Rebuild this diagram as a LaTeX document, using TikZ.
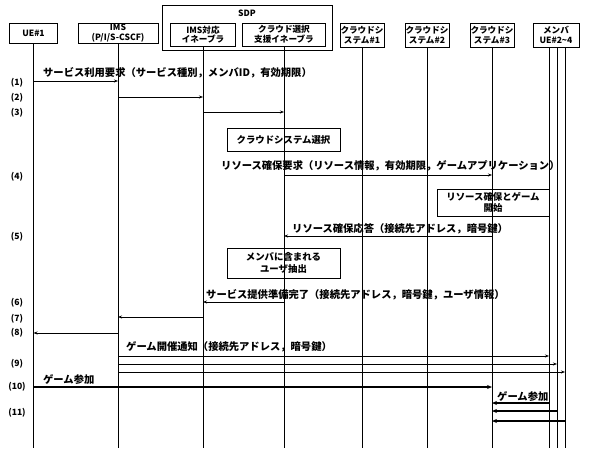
\documentclass[tikz,border=0pt]{standalone}
\usepackage{fontspec}
\setmainfont{Noto Sans CJK JP}
\usetikzlibrary{arrows.meta}
\begin{document}
\begin{tikzpicture}[x=1pt,y=-1pt,
  hdr/.style={draw,line width=0.8pt,align=center,inner sep=0pt,font=\fontsize{8.6}{9.6}\selectfont\bfseries},
  procbox/.style={draw,line width=0.8pt,align=center,inner sep=0pt,font=\fontsize{9.4}{11.5}\selectfont\bfseries},
  life/.style={line width=0.6pt},
  msg/.style={line width=0.8pt,-{Stealth[length=4pt,width=3pt]}},
  thickmsg/.style={line width=1.4pt,-{Stealth[length=5pt,width=4pt]}},
  lbl/.style={anchor=west,inner sep=0pt,font=\fontsize{10.3}{12}\selectfont\bfseries},
  rowlbl/.style={inner sep=0pt,font=\fontsize{8.6}{10}\selectfont\bfseries}]
\useasboundingbox[fill=white] (0,0) rectangle (590,448);

% header boxes
\node[hdr,minimum width=48pt,minimum height=20pt] (ue) at (33.5,33) {UE\#1};
\node[hdr,minimum width=80pt,minimum height=20pt] (ims) at (118,33) {IMS\\(P/I/S-CSCF)};
\draw[line width=0.8pt] (162,5) rectangle (332,50);
\node[rowlbl] (sdp) at (247,13) {SDP};
\node[hdr,minimum width=65pt,minimum height=23pt] (imsen) at (203,34.5) {IMS対応\\イネーブラ};
\node[hdr,minimum width=83pt,minimum height=23pt] (cse) at (284,34.5) {クラウド選択\\支援イネーブラ};
\node[hdr,minimum width=44pt,minimum height=24pt] (cs1) at (362,35) {クラウドシ\\ステム\#1};
\node[hdr,minimum width=44pt,minimum height=24pt] (cs2) at (427,35) {クラウドシ\\ステム\#2};
\node[hdr,minimum width=44pt,minimum height=24pt] (cs3) at (492,35) {クラウドシ\\ステム\#3};
\node[hdr,minimum width=46pt,minimum height=24pt] (mem) at (556,35) {メンバ\\UE\#2\textasciitilde 4};

\coordinate (m1) at (549,47);
\coordinate (m2) at (557,47);
\coordinate (m3) at (565,47);

% lifelines
\foreach \n in {ue,ims,imsen,cse,cs1,cs2,cs3}{
  \draw[life] (\n.south) -- (\n.south |- 0,448);
}
\foreach \n in {m1,m2,m3}{
  \draw[life] (\n) -- (\n |- 0,448);
}

% row labels
\node[rowlbl] (r1) at (17,83) {(1)};
\node[rowlbl] (r2) at (17,98) {(2)};
\node[rowlbl] (r3) at (17,113) {(3)};
\node[rowlbl] (r4) at (17,177) {(4)};
\node[rowlbl] (r5) at (17,237) {(5)};
\node[rowlbl] (r6) at (17,303) {(6)};
\node[rowlbl] (r7) at (17,319) {(7)};
\node[rowlbl] (r8) at (17,333) {(8)};
\node[rowlbl] (r9) at (17,364) {(9)};
\node[rowlbl] (r10) at (17,387) {(10)};
\node[rowlbl] (r11) at (17,413) {(11)};

% (1)-(3)
\node[lbl] (l1) at (43,73) {サービス利用要求（サービス種別，メンバID，有効期限）};
\draw[msg] (ue |- 0,81) -- (ims |- 0,81);
\draw[msg] (ims |- 0,97) -- (imsen |- 0,97);
\draw[msg] (imsen |- 0,112) -- (cse |- 0,112);

\node[procbox,minimum width=113pt,minimum height=23pt] (sel) at (283.5,139.5) {クラウドシステム選択};

% (4)
\node[lbl] (l4) at (221,166) {リソース確保要求（リソース情報，有効期限，ゲームアプリケーション）};
\draw[msg] (cse |- 0,175) -- (cs3 |- 0,175);

\node[procbox,minimum width=112pt,minimum height=27pt] (start) at (493,202.5) {リソース確保とゲーム\\開始};

% (5)
\node[lbl] (l5) at (292,229) {リソース確保応答（接続先アドレス，暗号鍵）};
\draw[msg] (cs3 |- 0,236) -- (cse |- 0,236);

\node[procbox,minimum width=113pt,minimum height=30pt] (ext) at (283.5,263) {メンバに含まれる\\ユーザ抽出};

% (6)-(8)
\node[lbl] (l6) at (206,295) {サービス提供準備完了（接続先アドレス，暗号鍵，ユーザ情報）};
\draw[msg] (cse |- 0,302) -- (imsen |- 0,302);
\draw[msg] (imsen |- 0,317) -- (ims |- 0,317);
\draw[msg] (ims |- 0,333) -- (ue |- 0,333);

% (9)
\node[lbl] (l9) at (126,347) {ゲーム開催通知（接続先アドレス，暗号鍵）};
\draw[msg] (ims |- 0,356) -- (m1 |- 0,356);
\draw[msg] (ims |- 0,364) -- (m2 |- 0,364);
\draw[msg] (ims |- 0,372) -- (m3 |- 0,372);

% (10)
\node[lbl] (l10) at (43,380) {ゲーム参加};
\draw[thickmsg] (ue |- 0,387) -- (cs3 |- 0,387);

% (11)
\node[lbl] (l11) at (497,397) {ゲーム参加};
\draw[line width=1.1pt,-{Stealth[length=5pt,width=4pt]}] (m1 |- 0,403) -- (cs3 |- 0,403);
\draw[line width=1.1pt,-{Stealth[length=5pt,width=4pt]}] (m2 |- 0,411) -- (cs3 |- 0,411);
\draw[line width=1.1pt,-{Stealth[length=5pt,width=4pt]}] (m3 |- 0,421) -- (cs3 |- 0,421);
\end{tikzpicture}
\end{document}
